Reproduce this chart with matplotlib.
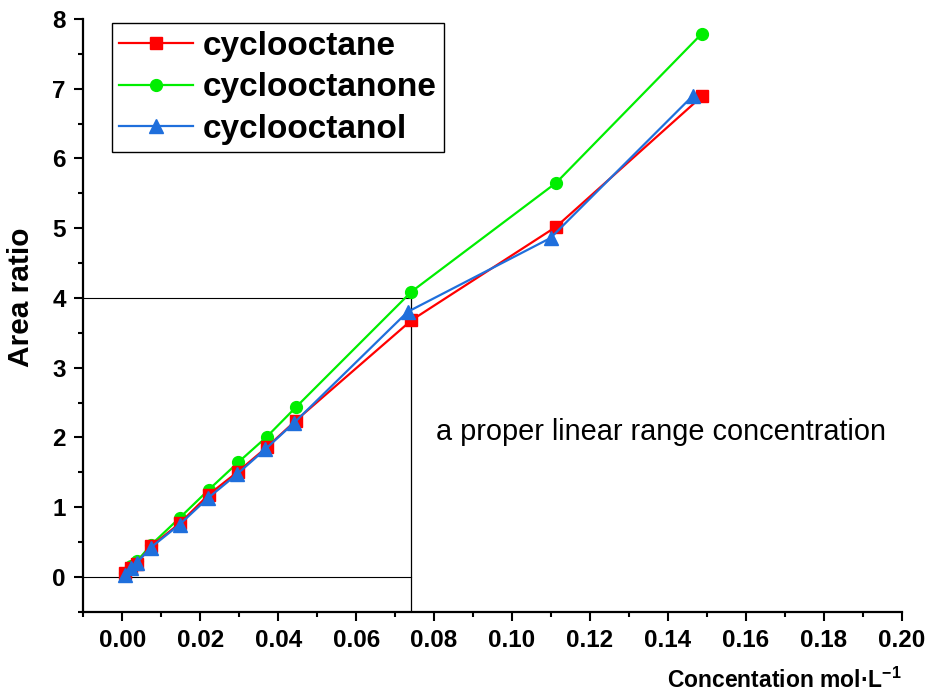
import numpy as np
import matplotlib
matplotlib.use("Agg")
import matplotlib.pyplot as plt

plt.rcParams['font.family'] = ['Liberation Sans', 'DejaVu Sans']
plt.rcParams['mathtext.fontset'] = 'custom'
plt.rcParams['mathtext.rm'] = 'Liberation Sans:bold'
plt.rcParams['mathtext.it'] = 'Liberation Sans:bold'
plt.rcParams['mathtext.bf'] = 'Liberation Sans:bold'

# ---------------- data ----------------
conc = [0.0007, 0.0022, 0.0037, 0.0074, 0.0148, 0.0222, 0.0297, 0.0371, 0.0445, 0.0742, 0.1113, 0.1487]
conc_ol = [0.0007, 0.0022, 0.0037, 0.0073, 0.0147, 0.0220, 0.0294, 0.0367, 0.0441, 0.0732, 0.1099, 0.1464]

cyclooctane = [0.05, 0.13, 0.19, 0.44, 0.77, 1.18, 1.51, 1.86, 2.24, 3.68, 5.02, 6.89]
cyclooctanone = [0.05, 0.15, 0.22, 0.46, 0.85, 1.25, 1.64, 2.01, 2.43, 4.09, 5.65, 7.79]
cyclooctanol = [0.03, 0.12, 0.20, 0.42, 0.75, 1.13, 1.47, 1.83, 2.21, 3.80, 4.86, 6.90]

x_ticks = [0.00, 0.02, 0.04, 0.06, 0.08, 0.10, 0.12, 0.14, 0.16, 0.18, 0.20]
y_ticks = [0, 1, 2, 3, 4, 5, 6, 7, 8]

# guide lines marking the linear range
lin_x = 0.074
lin_y = 4

fig = plt.figure(figsize=(9.28, 6.97), dpi=100)
ax = fig.add_axes([0.0898, 0.1224, 0.8819, 0.8503])

# guide lines
ax.plot([-0.01, lin_x], [lin_y, lin_y], color='black', lw=0.8, zorder=1)
ax.plot([-0.01, lin_x], [0, 0], color='black', lw=0.8, zorder=1)
ax.plot([lin_x, lin_x], [-0.5, lin_y], color='black', lw=0.9, zorder=1)

ax.plot(conc, cyclooctane, color='#ff0000', lw=1.6, marker='s', ms=8,
        label='cyclooctane', zorder=3)
ax.plot(conc, cyclooctanone, color='#00ee00', lw=1.6, marker='o', ms=8.5,
        label='cyclooctanone', zorder=2)
ax.plot(conc_ol, cyclooctanol, color='#1f6fdc', lw=1.6, marker='^', ms=10,
        label='cyclooctanol', zorder=4)

ax.text(0.0805, 2.07, 'a proper linear range concentration', fontsize=20.8,
        ha='left', va='center')

ax.set_xlim(-0.01, 0.20)
ax.set_ylim(-0.5, 8)
ax.set_xticks(x_ticks)
ax.set_xticklabels(['%.2f' % v for v in x_ticks])
ax.set_xticks(np.arange(-0.01, 0.2, 0.02), minor=True)
ax.set_yticks(y_ticks)
ax.set_yticks(np.arange(-0.5, 8, 1.0), minor=True)

for s in ['top', 'right']:
    ax.spines[s].set_visible(False)
for s in ['left', 'bottom']:
    ax.spines[s].set_linewidth(1.6)

ax.tick_params(which='major', direction='out', length=6.5, width=1.5,
               labelsize=17.5, pad=6)
ax.tick_params(which='minor', direction='out', length=3.5, width=1.5)
for lab in ax.get_xticklabels() + ax.get_yticklabels():
    lab.set_fontweight('bold')

ax.set_ylabel('Area ratio', fontsize=21.5, fontweight='bold')
ax.yaxis.set_label_coords(-0.059, 0.53)
ax.set_xlabel('Concentation mol·L$^{-1}$', fontsize=16.5, fontweight='bold',
              loc='right', labelpad=11)

leg = ax.legend(loc='upper left', bbox_to_anchor=(0.035, 0.993),
                borderaxespad=0, fancybox=False, framealpha=1,
                edgecolor='black', handlelength=2.2, handletextpad=0.3,
                labelspacing=0.32, borderpad=0.22,
                prop={'size': 24, 'weight': 'bold'})
leg.get_frame().set_linewidth(1.0)

fig.savefig('out.png', dpi=100)
